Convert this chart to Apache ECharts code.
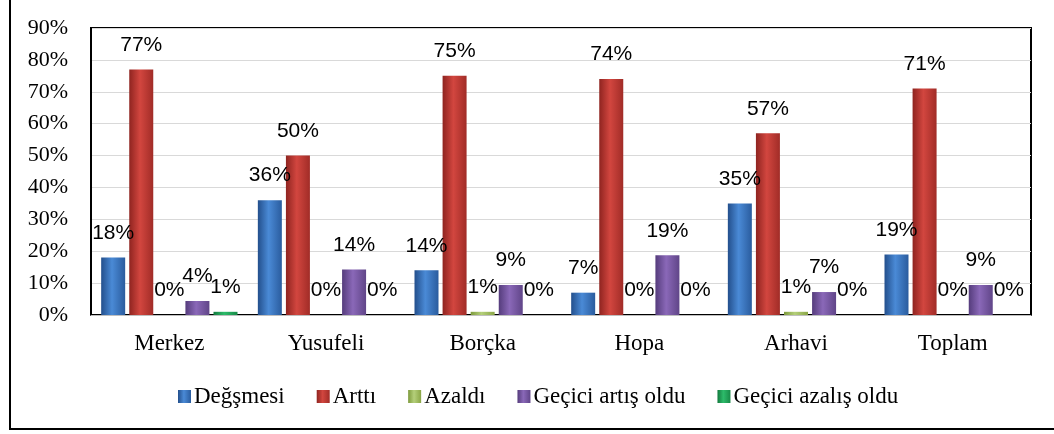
<!DOCTYPE html>
<html>
<head>
<meta charset="utf-8">
<script src="https://cdn.jsdelivr.net/npm/echarts@6/dist/echarts.min.js"></script>
<style>
  html, body { margin: 0; padding: 0; background: #fff; overflow: hidden; }
  #frame { position: absolute; left: 9px; top: -3px; width: 1060px; height: 433px; border: 2px solid #000; box-sizing: border-box; }
  #chart { position: absolute; left: 0; top: 0; width: 1054px; height: 434px; }
</style>
</head>
<body>
<div id="frame"></div>
<div id="chart"></div>
<script>
const categories = ['Merkez', 'Yusufeli', 'Borçka', 'Hopa', 'Arhavi', 'Toplam'];
const seriesNames = ['Değşmesi', 'Arttı', 'Azaldı', 'Geçici artış oldu', 'Geçici azalış oldu'];
const degismesi = [18, 36, 14, 7, 35, 19];
const artti = [77, 50, 75, 74, 57, 71];
const azaldi = [0, 0, 1, 0, 1, 0];
const geciciArtis = [4.4, 14.3, 9.4, 18.7, 7.2, 9.4];
const geciciAzalis = [1, 0, 0, 0, 0, 0];
const yTicks = [0, 10, 20, 30, 40, 50, 60, 70, 80, 90];

const seriesData = [degismesi, artti, azaldi, geciciArtis, geciciAzalis];
const palettes = [
  ['#234f8c', '#4a8ad6', '#2a5c9e'],
  ['#8f2420', '#d2463f', '#a12c27'],
  ['#7d9a3c', '#b4cf7a', '#8aa646'],
  ['#553c7c', '#8a68b8', '#604588'],
  ['#137a3e', '#2dbb6a', '#188a48']
];

function grad(p) {
  return new echarts.graphic.LinearGradient(0, 0, 1, 0, [
    { offset: 0, color: p[0] },
    { offset: 0.45, color: p[1] },
    { offset: 1, color: p[2] }
  ]);
}

const chart = echarts.init(document.getElementById('chart'), null, { renderer: 'canvas' });
const option = {
  animation: false,
  textStyle: { fontFamily: 'Liberation Serif' },
  grid: { left: 91, right: 23, top: 28, bottom: 119, show: true, borderColor: '#000', borderWidth: 2, backgroundColor: 'transparent' },
  legend: {
    data: seriesNames,
    left: 173,
    top: 380,
    itemWidth: 13,
    itemHeight: 13,
    itemGap: 32,
    icon: 'rect',
    textStyle: { fontFamily: 'Liberation Serif', fontSize: 23, color: '#000', padding: [0, 0, 0, -2] }
  },
  xAxis: {
    type: 'category',
    data: categories,
    axisLine: { show: true, lineStyle: { color: '#bfbfbf', width: 1 } },
    axisTick: { show: false },
    axisLabel: { fontFamily: 'Liberation Serif', fontSize: 23, color: '#000', margin: 17 },
    splitLine: { show: false }
  },
  yAxis: {
    type: 'value',
    min: yTicks[0],
    max: yTicks[yTicks.length - 1],
    interval: 10,
    axisLine: { show: true, lineStyle: { color: '#000', width: 2 } },
    axisTick: { show: false },
    axisLabel: { fontFamily: 'Liberation Serif', fontSize: 22, color: '#000', margin: 23, formatter: '{value}%' },
    splitLine: { show: true, lineStyle: { color: '#d9d9d9', width: 1 } }
  },
  series: seriesNames.map((name, i) => ({
    name: name,
    type: 'bar',
    data: seriesData[i],
    barWidth: 24,
    barGap: '17%',
    itemStyle: { color: grad(palettes[i]) },
    label: {
      show: true,
      position: 'top',
      distance: 14,
      formatter: p => '{v|' + Math.round(p.value) + '%}',
      rich: { v: { fontFamily: 'Liberation Sans', fontSize: 21, color: '#000' } }
    }
  }))
};
chart.setOption(option);
</script>
</body>
</html>
